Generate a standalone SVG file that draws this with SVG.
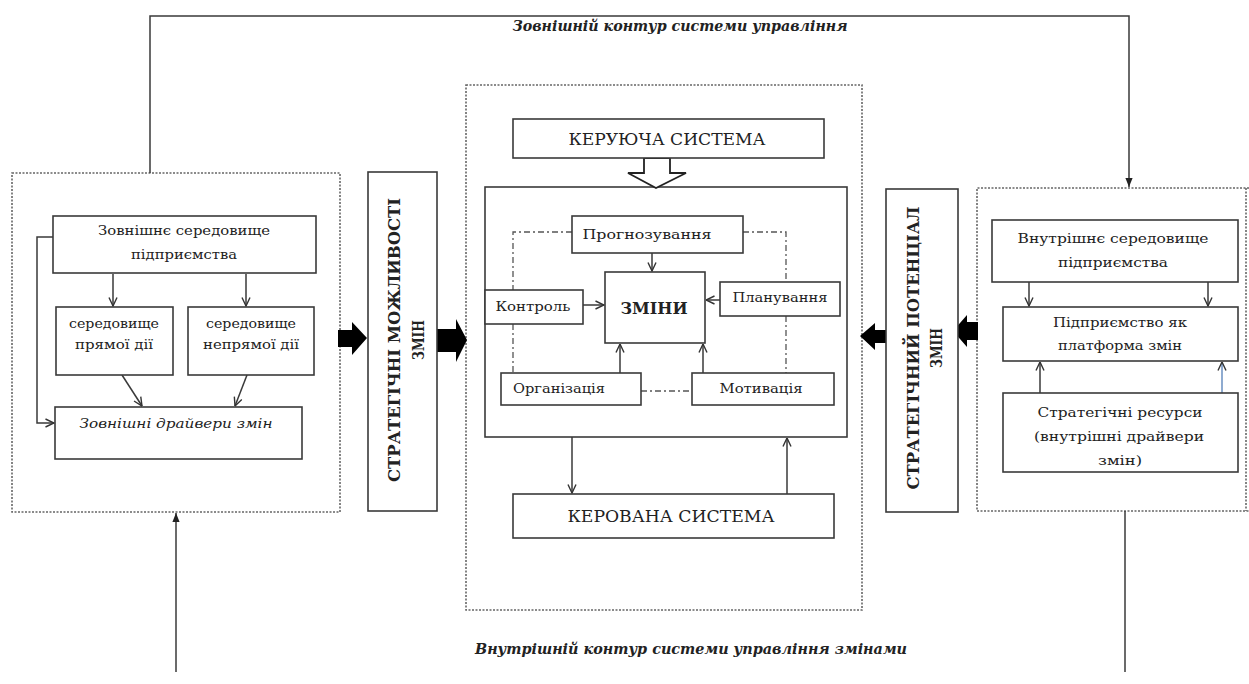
<svg xmlns="http://www.w3.org/2000/svg" width="1249" height="684" viewBox="0 0 1249 684">
<defs>
<marker id="open" viewBox="0 0 10 10" refX="9.5" refY="5" markerWidth="10" markerHeight="10" markerUnits="userSpaceOnUse" orient="auto"><path d="M1,1 L9.5,5 L1,9" fill="none" stroke="#333" stroke-width="1.4"/></marker>
<marker id="tri" viewBox="0 0 10 10" refX="10" refY="5" markerWidth="9" markerHeight="9" markerUnits="userSpaceOnUse" orient="auto"><path d="M0,1 L10,5 L0,9z" fill="#222"/></marker>
</defs>
<style>
.box{fill:#fff;stroke:#3a3a3a;stroke-width:1.6}
.dot{fill:none;stroke:#666;stroke-width:1.6;stroke-dasharray:2 1.5}
.ln{fill:none;stroke:#3a3a3a;stroke-width:1.5}
.dd{fill:none;stroke:#555;stroke-width:1.3;stroke-dasharray:6 3 2 3}
.t{font-family:"DejaVu Serif","Liberation Serif",serif;font-size:13px;fill:#222;text-anchor:middle}
.tb{font-family:"DejaVu Serif","Liberation Serif",serif;font-size:16px;font-weight:bold;fill:#222;text-anchor:middle}
.ti{font-family:"DejaVu Serif","Liberation Serif",serif;font-size:14px;font-style:italic;font-weight:bold;fill:#222;text-anchor:middle}
.cap{font-family:"DejaVu Serif","Liberation Serif",serif;font-size:16px;fill:#222;text-anchor:middle}
.blk{fill:#000}
</style>
<rect width="1249" height="684" fill="#fff"/>

<g id="containers">
<rect id="left-env" class="dot" x="12" y="173" width="328" height="339"/>
<rect id="center-box" class="dot" x="466" y="85" width="396" height="525"/>
<path id="right-env" class="dot" d="M1249,188 H977 V511 H1249"/>
<line x1="1246" y1="188" x2="1246" y2="511" class="dot"/>
<rect id="inner-box" class="box" x="485" y="187" width="362" height="250"/>
</g>

<g id="connectors">
<path class="ln" d="M150,173 V16 H1129 V187" marker-end="url(#tri)"/>
<line class="ln" x1="176" y1="672" x2="176" y2="513" marker-end="url(#tri)"/>
<line class="ln" x1="1125" y1="511" x2="1125" y2="672"/>
<path class="ln" d="M53,237 H37 V423 H54" marker-end="url(#open)"/>
<line class="ln" x1="113" y1="274" x2="113" y2="306" marker-end="url(#open)"/>
<line class="ln" x1="246" y1="274" x2="246" y2="306" marker-end="url(#open)"/>
<line class="ln" x1="122" y1="375" x2="142" y2="406" marker-end="url(#open)"/>
<line class="ln" x1="247" y1="375" x2="235" y2="406" marker-end="url(#open)"/>
<path class="dd" d="M572,232 H513 V290 M513,324 V373 M743,232 H786 V282 M786,316 V373 M641,391 H692"/>
<line class="ln" x1="652" y1="253" x2="652" y2="271" marker-end="url(#open)"/>
<line class="ln" x1="583" y1="305" x2="604" y2="305" marker-end="url(#open)"/>
<line class="ln" x1="720" y1="300" x2="706" y2="300" marker-end="url(#open)"/>
<line class="ln" x1="620" y1="373" x2="620" y2="344" marker-end="url(#open)"/>
<line class="ln" x1="703" y1="373" x2="703" y2="344" marker-end="url(#open)"/>
<line class="ln" x1="572" y1="437" x2="572" y2="493" marker-end="url(#open)"/>
<line class="ln" x1="787" y1="494" x2="787" y2="438" marker-end="url(#open)"/>
<line class="ln" x1="1029" y1="282" x2="1029" y2="306" marker-end="url(#open)"/>
<line class="ln" x1="1208" y1="282" x2="1208" y2="306" marker-end="url(#open)"/>
<line class="ln" x1="1040" y1="393" x2="1040" y2="362" marker-end="url(#open)"/>
<line x1="1222" y1="393" x2="1222" y2="362" stroke="#6a8fc0" stroke-width="1.5" marker-end="url(#open)"/>
<path class="blk" d="M338,330 H352 V322 L367,338 L352,355 V347 H338Z"/>
<path class="blk" d="M433,329 H456 V319 L467,340 L456,362 V352 H433Z"/>
<path class="blk" d="M886,330 H875 V323 L860,336 L875,350 V343 H886Z"/>
<path class="blk" d="M978,322 H967 V315 L953,331 L967,347 V340 H978Z"/>
<path d="M644,158 V173 H628 L656,188 L686,173 H670 V158Z" fill="#fff" stroke="#222" stroke-width="1.8"/>
</g>

<g id="labels">
<text class="ti" x="680" y="31" textLength="335" lengthAdjust="spacingAndGlyphs">Зовнішній контур системи управління</text>
<text class="ti" x="691" y="654" textLength="432" lengthAdjust="spacingAndGlyphs">Внутрішній контур системи управління змінами</text>
</g>

<g id="n-ext">
<rect class="box" x="53" y="216" width="263" height="57"/>
<text class="t" x="184" y="235" textLength="172" lengthAdjust="spacingAndGlyphs">Зовнішнє середовище</text>
<text class="t" x="184" y="259" textLength="106" lengthAdjust="spacingAndGlyphs">підприємства</text>
</g>
<g id="n-direct">
<rect class="box" x="56" y="307" width="117" height="68"/>
<text class="t" x="114" y="328" textLength="90" lengthAdjust="spacingAndGlyphs">середовище</text>
<text class="t" x="114" y="349" textLength="78" lengthAdjust="spacingAndGlyphs">прямої дії</text>
</g>
<g id="n-indirect">
<rect class="box" x="188" y="307" width="126" height="68"/>
<text class="t" x="251" y="328" textLength="90" lengthAdjust="spacingAndGlyphs">середовище</text>
<text class="t" x="251" y="349" textLength="96" lengthAdjust="spacingAndGlyphs">непрямої дії</text>
</g>
<g id="n-extdrivers">
<rect class="box" x="55" y="407" width="247" height="52"/>
<text class="t" x="176" y="428" font-style="italic" textLength="193" lengthAdjust="spacingAndGlyphs">Зовнішні драйвери змін</text>
</g>

<g id="n-opport">
<rect class="box" x="368" y="172" width="69" height="339"/>
<text class="tb" transform="translate(400,340) rotate(-90)"><tspan x="0" y="0" textLength="284" lengthAdjust="spacingAndGlyphs">СТРАТЕГІЧНІ МОЖЛИВОСТІ</tspan><tspan x="0" y="24" textLength="40" lengthAdjust="spacingAndGlyphs">ЗМІН</tspan></text>
</g>

<g id="n-potential">
<rect class="box" x="886" y="189" width="72" height="323"/>
<text class="tb" transform="translate(919,348) rotate(-90)"><tspan x="0" y="0" textLength="283" lengthAdjust="spacingAndGlyphs">СТРАТЕГІЧНИЙ ПОТЕНЦІАЛ</tspan><tspan x="0" y="23" textLength="40" lengthAdjust="spacingAndGlyphs">ЗМІН</tspan></text>
</g>

<g id="n-control-sys">
<rect class="box" x="513" y="119" width="311" height="39"/>
<text class="cap" x="667" y="145" textLength="197" lengthAdjust="spacingAndGlyphs">КЕРУЮЧА СИСТЕМА</text>
</g>
<g id="n-forecast">
<rect class="box" x="572" y="216" width="171" height="37"/>
<text class="t" x="647" y="239" textLength="129" lengthAdjust="spacingAndGlyphs">Прогнозування</text>
</g>
<g id="n-kontrol">
<rect class="box" x="485" y="290" width="98" height="34"/>
<text class="t" x="533" y="311" textLength="75" lengthAdjust="spacingAndGlyphs">Контроль</text>
</g>
<g id="n-changes">
<rect class="box" x="605" y="272" width="100" height="71"/>
<text class="tb" x="654" y="314" font-size="18" textLength="67" lengthAdjust="spacingAndGlyphs">ЗМІНИ</text>
</g>
<g id="n-plan">
<rect class="box" x="720" y="282" width="120" height="34"/>
<text class="t" x="780" y="302" textLength="95" lengthAdjust="spacingAndGlyphs">Планування</text>
</g>
<g id="n-org">
<rect class="box" x="501" y="373" width="140" height="32"/>
<text class="t" x="559" y="393" textLength="92" lengthAdjust="spacingAndGlyphs">Організація</text>
</g>
<g id="n-motiv">
<rect class="box" x="692" y="373" width="142" height="32"/>
<text class="t" x="761" y="393" textLength="83" lengthAdjust="spacingAndGlyphs">Мотивація</text>
</g>
<g id="n-managed">
<rect class="box" x="513" y="494" width="321" height="44"/>
<text class="cap" x="671" y="522" textLength="207" lengthAdjust="spacingAndGlyphs">КЕРОВАНА СИСТЕМА</text>
</g>

<g id="n-int-env">
<rect class="box" x="992" y="220" width="246" height="62"/>
<text class="t" x="1113" y="243" textLength="191" lengthAdjust="spacingAndGlyphs">Внутрішнє середовище</text>
<text class="t" x="1113" y="267" textLength="110" lengthAdjust="spacingAndGlyphs">підприємства</text>
</g>
<g id="n-platform">
<rect class="box" x="1003" y="307" width="235" height="54"/>
<text class="t" x="1120" y="327" textLength="134" lengthAdjust="spacingAndGlyphs">Підприємство як</text>
<text class="t" x="1120" y="350" textLength="124" lengthAdjust="spacingAndGlyphs">платформа змін</text>
</g>
<g id="n-resources">
<rect class="box" x="1003" y="393" width="235" height="79"/>
<text class="t" x="1120" y="417" textLength="165" lengthAdjust="spacingAndGlyphs">Стратегічні ресурси</text>
<text class="t" x="1119" y="441" textLength="170" lengthAdjust="spacingAndGlyphs">(внутрішні драйвери</text>
<text class="t" x="1120" y="465" textLength="44" lengthAdjust="spacingAndGlyphs">змін)</text>
</g>
</svg>
